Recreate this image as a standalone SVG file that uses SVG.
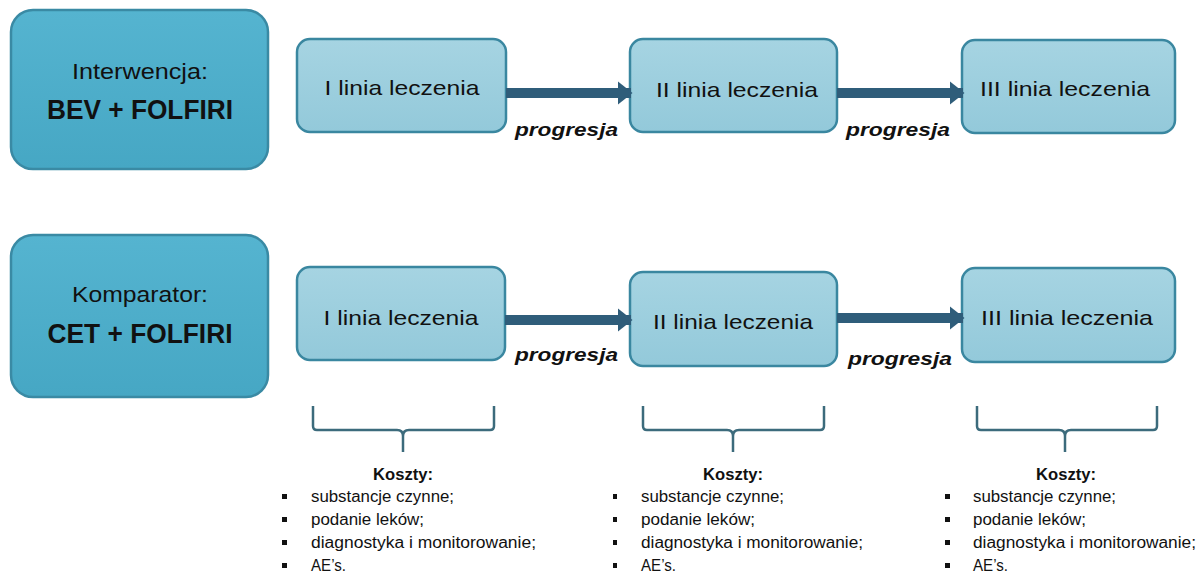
<svg xmlns="http://www.w3.org/2000/svg" width="1201" height="574" viewBox="0 0 1201 574">
<defs>
<linearGradient id="bigg" x1="0" y1="0" x2="0" y2="1">
<stop offset="0" stop-color="#55b4d0"/>
<stop offset="1" stop-color="#46a7c4"/>
</linearGradient>
<linearGradient id="smg" x1="0" y1="0" x2="0" y2="1">
<stop offset="0" stop-color="#a6d4e2"/>
<stop offset="1" stop-color="#93c9da"/>
</linearGradient>
<marker id="ah" viewBox="0 0 10 10" refX="9" refY="5" markerWidth="1.5" markerHeight="2.4" markerUnits="strokeWidth" orient="auto" preserveAspectRatio="none">
<path d="M0,0 L10,5 L0,10 Z" fill="#2f5d7a"/>
</marker>
</defs>
<style>
.big{fill:url(#bigg);stroke:#3a8aa4;stroke-width:2.5}
.sm{fill:url(#smg);stroke:#3a87a0;stroke-width:2.5}
.t1{font-family:"Liberation Sans",Arial,sans-serif;font-size:22px;fill:#111;text-anchor:middle}
.t2{font-family:"Liberation Sans",Arial,sans-serif;font-size:27px;font-weight:bold;fill:#111;text-anchor:middle}
.t3{font-family:"Liberation Sans",Arial,sans-serif;font-size:21px;fill:#111;text-anchor:middle}
.pr{font-family:"Liberation Sans",Arial,sans-serif;font-size:19px;font-weight:bold;font-style:italic;fill:#111}
.arr{stroke:#2f5d7a;stroke-width:10;fill:none;marker-end:url(#ah)}
.br{stroke:#3c6b7c;stroke-width:2.5;fill:none}
.kh{font-family:"Liberation Sans",Arial,sans-serif;font-size:17px;font-weight:bold;fill:#111;text-anchor:middle}
.li{font-family:"Liberation Sans",Arial,sans-serif;font-size:16px;fill:#111}
.bu{fill:#111}
</style>
<rect width="1201" height="574" fill="#ffffff"/>

<g id="interwencja">
<rect class="big" x="11" y="10" width="257" height="159" rx="22"/>
<text class="t1" x="140" y="79" textLength="136" lengthAdjust="spacingAndGlyphs">Interwencja:</text>
<text class="t2" x="140" y="119" textLength="186" lengthAdjust="spacingAndGlyphs">BEV + FOLFIRI</text>
</g>
<g id="komparator">
<rect class="big" x="11" y="235" width="257" height="162" rx="22"/>
<text class="t1" x="140" y="302" textLength="136" lengthAdjust="spacingAndGlyphs">Komparator:</text>
<text class="t2" x="140" y="343" textLength="185" lengthAdjust="spacingAndGlyphs">CET + FOLFIRI</text>
</g>

<g id="top-l1">
<rect class="sm" x="297" y="39" width="209" height="93" rx="13"/>
<text class="t3" x="402" y="95" textLength="155" lengthAdjust="spacingAndGlyphs">I linia leczenia</text>
</g>
<g id="top-l2">
<rect class="sm" x="630" y="39" width="207" height="93" rx="13"/>
<text class="t3" x="737" y="97" textLength="162" lengthAdjust="spacingAndGlyphs">II linia leczenia</text>
</g>
<g id="top-l3">
<rect class="sm" x="962" y="40" width="213" height="93" rx="13"/>
<text class="t3" x="1065" y="96" textLength="170" lengthAdjust="spacingAndGlyphs">III linia leczenia</text>
</g>

<g id="bot-l1">
<rect class="sm" x="297" y="267" width="208" height="93" rx="13"/>
<text class="t3" x="401" y="325" textLength="155" lengthAdjust="spacingAndGlyphs">I linia leczenia</text>
</g>
<g id="bot-l2">
<rect class="sm" x="630" y="272" width="207" height="94" rx="13"/>
<text class="t3" x="733" y="329" textLength="160" lengthAdjust="spacingAndGlyphs">II linia leczenia</text>
</g>
<g id="bot-l3">
<rect class="sm" x="962" y="268" width="213" height="94" rx="13"/>
<text class="t3" x="1067" y="325" textLength="172" lengthAdjust="spacingAndGlyphs">III linia leczenia</text>
</g>

<g id="connectors">
<line class="arr" x1="506" y1="93" x2="631" y2="93"/>
<line class="arr" x1="837" y1="93" x2="963" y2="93"/>
<line class="arr" x1="505" y1="320" x2="631" y2="320"/>
<line class="arr" x1="837" y1="318" x2="963" y2="318"/>
<text class="pr" x="515" y="136" textLength="103" lengthAdjust="spacingAndGlyphs">progresja</text>
<text class="pr" x="846" y="136" textLength="104" lengthAdjust="spacingAndGlyphs">progresja</text>
<text class="pr" x="515" y="361" textLength="103" lengthAdjust="spacingAndGlyphs">progresja</text>
<text class="pr" x="848" y="365" textLength="104" lengthAdjust="spacingAndGlyphs">progresja</text>
</g>

<g id="koszty-1">
<path class="br" d="M313,406 V426 Q313,430 317,430 H397 Q403,430 403,436 V452 M403,436 Q403,430 409,430 H490 Q494,430 494,426 V406"/>
<text class="kh" x="403" y="480" textLength="60" lengthAdjust="spacingAndGlyphs">Koszty:</text>
<rect class="bu" x="282" y="494" width="5" height="5"/>
<rect class="bu" x="282" y="517" width="5" height="5"/>
<rect class="bu" x="282" y="540" width="5" height="5"/>
<rect class="bu" x="282" y="563" width="5" height="5"/>
<text class="li" x="311" y="502" textLength="143" lengthAdjust="spacingAndGlyphs">substancje czynne;</text>
<text class="li" x="311" y="525" textLength="113" lengthAdjust="spacingAndGlyphs">podanie leków;</text>
<text class="li" x="311" y="548" textLength="225" lengthAdjust="spacingAndGlyphs">diagnostyka i monitorowanie;</text>
<text class="li" x="311" y="571" textLength="35" lengthAdjust="spacingAndGlyphs">AE’s.</text>
</g>
<g id="koszty-2">
<path class="br" d="M643,406 V426 Q643,430 647,430 H727 Q733,430 733,436 V452 M733,436 Q733,430 739,430 H820 Q824,430 824,426 V406"/>
<text class="kh" x="733" y="480" textLength="60" lengthAdjust="spacingAndGlyphs">Koszty:</text>
<rect class="bu" x="613" y="494" width="4" height="5"/>
<rect class="bu" x="613" y="517" width="4" height="5"/>
<rect class="bu" x="613" y="540" width="4" height="5"/>
<rect class="bu" x="613" y="563" width="4" height="5"/>
<text class="li" x="641" y="502" textLength="143" lengthAdjust="spacingAndGlyphs">substancje czynne;</text>
<text class="li" x="641" y="525" textLength="114" lengthAdjust="spacingAndGlyphs">podanie leków;</text>
<text class="li" x="641" y="548" textLength="222" lengthAdjust="spacingAndGlyphs">diagnostyka i monitorowanie;</text>
<text class="li" x="641" y="571" textLength="35" lengthAdjust="spacingAndGlyphs">AE’s.</text>
</g>
<g id="koszty-3">
<path class="br" d="M977,406 V426 Q977,430 981,430 H1059 Q1065,430 1065,436 V452 M1065,436 Q1065,430 1071,430 H1153 Q1157,430 1157,426 V406"/>
<text class="kh" x="1066" y="480" textLength="60" lengthAdjust="spacingAndGlyphs">Koszty:</text>
<rect class="bu" x="945" y="494" width="5" height="5"/>
<rect class="bu" x="945" y="517" width="5" height="5"/>
<rect class="bu" x="945" y="540" width="5" height="5"/>
<rect class="bu" x="945" y="563" width="5" height="5"/>
<text class="li" x="973" y="502" textLength="143" lengthAdjust="spacingAndGlyphs">substancje czynne;</text>
<text class="li" x="973" y="525" textLength="113" lengthAdjust="spacingAndGlyphs">podanie leków;</text>
<text class="li" x="973" y="548" textLength="223" lengthAdjust="spacingAndGlyphs">diagnostyka i monitorowanie;</text>
<text class="li" x="973" y="571" textLength="35" lengthAdjust="spacingAndGlyphs">AE’s.</text>
</g>
</svg>
